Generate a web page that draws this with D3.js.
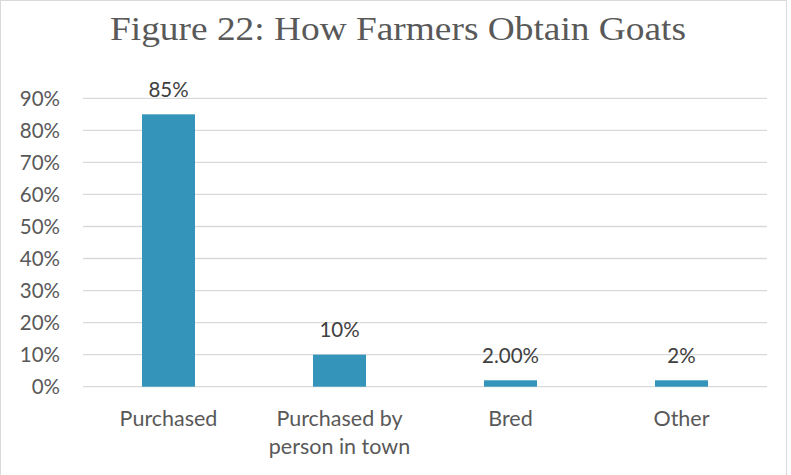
<!DOCTYPE html>
<html><head><meta charset="utf-8">
<script src="https://cdn.jsdelivr.net/npm/d3@7"></script>
<style>body{margin:0;background:#fff;}svg{display:block;}</style>
</head><body>
<script>
const categories = [["Purchased"], ["Purchased by", "person in town"], ["Bred"], ["Other"]];
const values = [0.85, 0.10, 0.02, 0.02];
const valueLabels = ["85%", "10%", "2.00%", "2%"];
const yTicks = [0, 0.1, 0.2, 0.3, 0.4, 0.5, 0.6, 0.7, 0.8, 0.9];
const title = "Figure 22: How Farmers Obtain Goats";

(function () {
const W = 791, H = 475;
const svg = d3.select("body").append("svg").attr("width", W).attr("height", H);
svg.append("rect").attr("x", 0.5).attr("y", 0.5).attr("width", W - 5).attr("height", H + 5)
  .attr("fill", "#fff").attr("stroke", "#d9d9d9").attr("stroke-width", 1);

const mLeft = 83, mRight = 767, mTop = 98.3, mBottom = 386.7;
const x = d3.scaleBand().domain(d3.range(categories.length)).range([mLeft, mRight]).paddingInner(0.69).paddingOuter(0.345);
const y = d3.scaleLinear().domain([0, 0.9]).range([mBottom, mTop]);
const sans = "Lato, 'Open Sans', sans-serif";

svg.append("text").attr("x", 398).attr("y", 40).attr("text-anchor", "middle")
  .attr("font-family", "'Liberation Serif','Times New Roman',serif").attr("font-size", 34.5)
  .attr("textLength", 576).attr("lengthAdjust", "spacingAndGlyphs")
  .attr("fill", "#595959").text(title);

const g = svg.append("g");
g.selectAll("line.grid").data(yTicks).join("line").attr("class", "grid")
  .attr("x1", mLeft).attr("x2", mRight).attr("y1", d => y(d)).attr("y2", d => y(d))
  .attr("stroke", "#d9d9d9").attr("stroke-width", 1.3);

const yAxis = d3.axisLeft(y).tickValues(yTicks).tickFormat(d3.format(".0%")).tickSize(0).tickPadding(23);
const ya = svg.append("g").attr("transform", `translate(${mLeft},0)`).call(yAxis);
ya.select(".domain").remove();
ya.selectAll("text").attr("font-family", sans).attr("font-size", 20.5).attr("fill", "#595959").attr("dy", "0.35em");

g.selectAll("rect.bar").data(values).join("rect").attr("class", "bar")
  .attr("x", (d, i) => x(i)).attr("width", x.bandwidth())
  .attr("y", d => y(d)).attr("height", d => y(0) - y(d)).attr("fill", "#3494ba");

g.selectAll("text.vl").data(values).join("text").attr("class", "vl")
  .attr("x", (d, i) => x(i) + x.bandwidth() / 2).attr("y", d => y(d) - 17.5)
  .attr("text-anchor", "middle").attr("font-family", sans)
  .attr("font-size", 20.5).attr("fill", "#404040").text((d, i) => valueLabels[i]);

const xa = svg.append("g");
categories.forEach((lines, i) => {
  const t = xa.append("text").attr("x", x(i) + x.bandwidth() / 2).attr("y", 425.5)
    .attr("text-anchor", "middle").attr("font-family", sans)
    .attr("font-size", 21.5).attr("fill", "#595959");
  lines.forEach((l, j) => t.append("tspan").attr("x", x(i) + x.bandwidth() / 2).attr("dy", j === 0 ? 0 : 28.5).text(l));
});
})();
</script>
</body></html>
